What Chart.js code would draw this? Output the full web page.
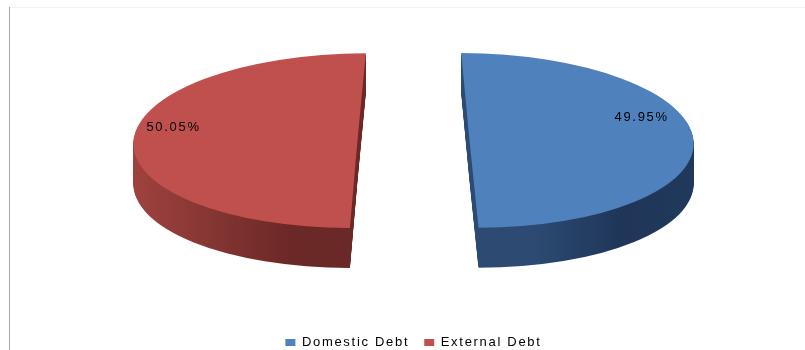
<!DOCTYPE html>
<html>
<head>
<meta charset="utf-8">
<script src="https://cdn.jsdelivr.net/npm/chart.js@4.4.1/dist/chart.umd.min.js"></script>
<style>
  html, body { margin: 0; padding: 0; background: #fff; }
  canvas { display: block; }
</style>
</head>
<body>
<canvas id="debtChart" width="805" height="350"></canvas>
<script>
// data
const categories = ['Domestic Debt', 'External Debt'];
const shares = [49.95, 50.05];
const shareLabels = ['49.95%', '50.05%'];

const TILT = 0.39;      // vertical squash of the pie face
const DEPTH = 40;       // thickness of the pie
const FACE_Y = 140.5;   // centre of the top face on the page
const EXPLODE = 56;     // how far each slice is pulled out
const LEAN = 0.095;     // perspective lean of the cut edges

// side wall colours per slice
const sideStops = [
    ['#2c4a72', '#1f3658', '#223b5e'],
    ['#b04a47', '#8e3a37', '#6a2826']
];
// label placement: turn away from the slice middle (rad) and reach (share of radius)
const labelTurn = [0.32, 0.18];
const labelReach = [0.82, 0.84];

function pullOut(arc){
    const mid = (arc.startAngle + arc.endAngle) / 2;
    return {x: Math.cos(mid) * EXPLODE, y: Math.sin(mid) * EXPLODE, mid: mid};
}

// page transform for one slice at a given depth
function sliceTransform(ctx, chart, arc, dy){
    const cy = (chart.chartArea.top + chart.chartArea.bottom) / 2;
    const p = pullOut(arc);
    ctx.translate(0, FACE_Y + dy);
    ctx.transform(1, 0, Math.sign(Math.cos(p.mid)) * LEAN, 1, 0, 0);
    ctx.scale(1, TILT);
    ctx.translate(0, -cy);
    ctx.translate(p.x, p.y);
    return p;
}

const pie3d = {
    id: 'pie3d',
    beforeUpdate: function(chart){
        chart.ctx.letterSpacing = '1.7px';
    },
    beforeDraw: function(chart){
        const ctx = chart.ctx;
        ctx.save();
        ctx.strokeStyle = '#f2f2f2';
        ctx.lineWidth = 1;
        ctx.beginPath();
        ctx.moveTo(10, 7.5);
        ctx.lineTo(805, 7.5);
        ctx.stroke();
        ctx.strokeStyle = '#a6a6a6';
        ctx.beginPath();
        ctx.moveTo(9.5, 7);
        ctx.lineTo(9.5, 350);
        ctx.stroke();
        ctx.restore();
    },
    beforeDatasetsDraw: function(chart){
        const ctx = chart.ctx;
        const meta = chart.getDatasetMeta(0);

        let fills = meta.data.map(function(arc, i){
            const p = pullOut(arc);
            const cx = arc.x + p.x;
            const r = arc.outerRadius;
            const s = sideStops[i];
            let g;
            if(i === 0){
                g = ctx.createLinearGradient(cx, 0, cx + r, 0);
                g.addColorStop(0, s[0]);
                g.addColorStop(0.4, s[1]);
                g.addColorStop(1, s[2]);
            }else{
                g = ctx.createLinearGradient(cx - r, 0, cx, 0);
                g.addColorStop(0, s[0]);
                g.addColorStop(0.5, s[1]);
                g.addColorStop(1, s[2]);
            }
            return g;
        });

        // side walls, stacked from the bottom up
        for(let d = DEPTH; d >= 1; d--){
            meta.data.forEach(function(arc, i){
                const saved = arc.options;
                ctx.save();
                sliceTransform(ctx, chart, arc, d);
                arc.options = Object.assign({}, saved, {backgroundColor: fills[i], borderWidth: 0});
                arc.draw(ctx);
                arc.options = saved;
                ctx.restore();
            });
        }

        // top faces and label anchors
        let points = [];
        meta.data.forEach(function(arc, i){
            ctx.save();
            const p = sliceTransform(ctx, chart, arc, 0);
            arc.draw(ctx);
            const a = p.mid - Math.sign(Math.cos(p.mid)) * labelTurn[i];
            const rr = arc.outerRadius * labelReach[i];
            points.push(ctx.getTransform().transformPoint({
                x: arc.x + Math.cos(a) * rr,
                y: arc.y + Math.sin(a) * rr
            }));
            ctx.restore();
        });

        ctx.save();
        ctx.font = '13px "Liberation Sans"';
        ctx.fillStyle = '#000';
        ctx.textAlign = 'center';
        ctx.textBaseline = 'middle';
        points.forEach(function(p, i){
            ctx.fillText(shareLabels[i], p.x, p.y);
        });
        ctx.restore();
        return false;
    }
};

new Chart(document.getElementById('debtChart'), {
    type: 'pie',
    data: {
        labels: categories,
        datasets: [{
            data: shares,
            backgroundColor: ['#4f81bd', '#c0504d'],
            borderWidth: 0,
            clip: false
        }]
    },
    options: {
        responsive: false,
        animation: false,
        radius: 224,
        layout: {
            padding: {left: 22, right: 0, top: 0, bottom: 0}
        },
        plugins: {
            legend: {
                position: 'bottom',
                maxHeight: 29,
                labels: {
                    boxWidth: 10,
                    boxHeight: 7,
                    padding: 15,
                    color: '#000',
                    font: {family: 'Liberation Sans', size: 13}
                }
            },
            tooltip: {enabled: false}
        }
    },
    plugins: [pie3d]
});
</script>
</body>
</html>
